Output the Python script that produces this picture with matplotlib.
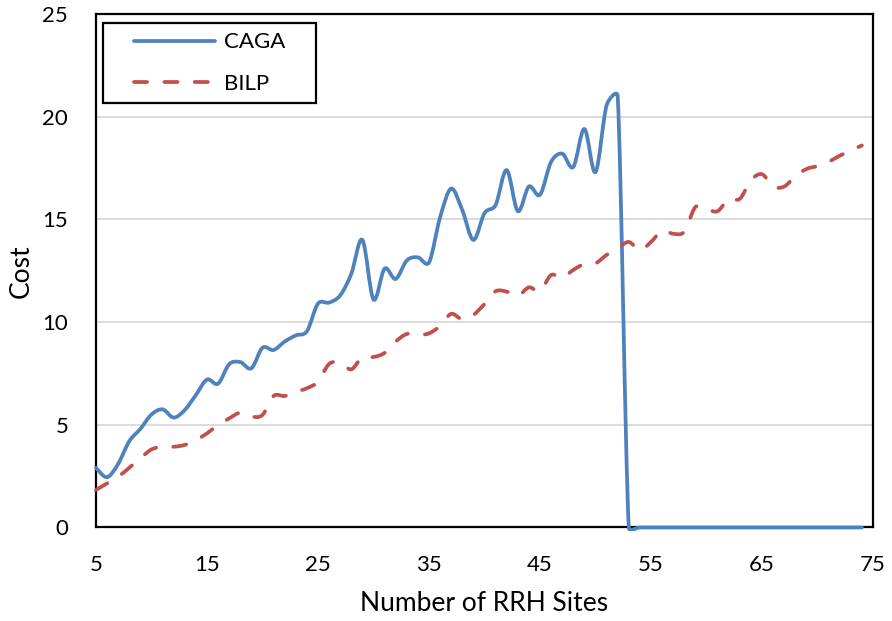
import numpy as np
import matplotlib
matplotlib.use("Agg")
import matplotlib.pyplot as plt
from matplotlib.path import Path
from matplotlib.patches import PathPatch, Rectangle
from matplotlib.lines import Line2D
from matplotlib.transforms import Bbox, TransformedBbox

plt.rcParams['font.family'] = ['Lato', 'DejaVu Sans']

sites = list(range(5, 75))
caga = [2.9, 2.45, 3.1, 4.2, 4.8, 5.5, 5.75, 5.35, 5.72, 6.45,
        7.2, 7.0, 7.95, 8.05, 7.75, 8.75, 8.64, 9.05, 9.35, 9.55,
        10.9, 10.95, 11.3, 12.35, 14.0, 11.1, 12.6, 12.1, 13.0, 13.15,
        12.9, 15.1, 16.5, 15.45, 14.0, 15.3, 15.7, 17.4, 15.4, 16.6,
        16.2, 17.8, 18.2, 17.55, 19.4, 17.3, 20.55, 21.0] + [0.0] * 22
bilp = [1.83, 2.15, 2.47, 2.91, 3.37, 3.8, 3.93, 3.93, 4.02, 4.26,
        4.58, 4.99, 5.31, 5.59, 5.4, 5.48, 6.4, 6.4, 6.6, 6.78,
        7.1, 7.96, 8.02, 7.7, 8.3, 8.3, 8.5, 9.05, 9.42, 9.38,
        9.45, 9.81, 10.4, 10.13, 10.35, 10.88, 11.5, 11.48, 11.27, 11.69,
        11.51, 12.29, 12.16, 12.54, 12.83, 12.86, 13.27, 13.59, 13.9, 13.5,
        13.9, 14.45, 14.3, 14.4, 15.6, 15.5, 15.4, 16.0, 16.0, 16.9,
        17.2, 16.6, 16.6, 17.1, 17.45, 17.6, 17.8, 18.1, 18.35, 18.6]
series_names = ['CAGA', 'BILP']
x_ticks = [5, 15, 25, 35, 45, 55, 65, 75]
y_ticks = [0, 5, 10, 15, 20, 25]

BLUE = '#4F81BD'
RED = '#C0504D'


def smooth_path(ax, xs, ys):
    """Excel-style smoothed line (Bezier through every point, computed in
    display space with control arms limited to half the segment length)."""
    data = np.column_stack([xs, ys]).astype(float)
    p = ax.transData.transform(data)
    n = len(p)
    verts = [p[0]]
    codes = [Path.MOVETO]
    for i in range(n - 1):
        p0 = p[i - 1] if i > 0 else p[i]
        p1 = p[i]
        p2 = p[i + 1]
        p3 = p[i + 2] if i + 2 < n else p[i + 1]
        half = np.linalg.norm(p2 - p1) / 2.0
        a1 = (p2 - p0) / 6.0
        a2 = (p3 - p1) / 6.0
        l1 = np.linalg.norm(a1)
        l2 = np.linalg.norm(a2)
        if l1 > half and l1 > 0:
            a1 = a1 * half / l1
        if l2 > half and l2 > 0:
            a2 = a2 * half / l2
        verts += [p1 + a1, p2 - a2, p2]
        codes += [Path.CURVE4] * 3
    verts = ax.transData.inverted().transform(np.array(verts))
    return Path(verts, codes)


fig = plt.figure(figsize=(8.92, 6.21), dpi=100)
ax = fig.add_axes([0.1076, 0.1506, 0.8711, 0.8269])

ax.set_xlim(5, 75)
ax.set_ylim(0, 25)
ax.set_xticks(x_ticks)
ax.set_yticks(y_ticks)
ax.tick_params(length=0, labelsize=16, pad=20)
ax.grid(axis='y', color='#D9D9D9', linewidth=1.3)
ax.set_axisbelow(True)
for s in ax.spines.values():
    s.set_color('black')
    s.set_linewidth(1.6)

clipbox = TransformedBbox(Bbox([[-0.01, -0.006], [1.01, 1.0]]), ax.transAxes)

lw = 2.7
dash = (3.5, 4.6)
pa = PathPatch(smooth_path(ax, sites, caga), facecolor='none', edgecolor=BLUE,
               linewidth=lw, zorder=3, capstyle='round', joinstyle='round')
ax.add_patch(pa)
pa.set_clip_box(clipbox)

pb = PathPatch(smooth_path(ax, sites, bilp), facecolor='none', edgecolor=RED,
               linewidth=lw, zorder=3, capstyle='round', joinstyle='round',
               linestyle=(0, dash))
ax.add_patch(pb)
pb.set_clip_box(clipbox)

ax.set_xlabel('Number of RRH Sites', fontsize=19, labelpad=11)
ax.set_ylabel('Cost', fontsize=19, labelpad=6)

# legend box
box = Rectangle((0.009, 0.8267), 0.274, 0.1558, transform=ax.transAxes,
                facecolor='white', edgecolor='black', linewidth=1.6, zorder=4)
ax.add_patch(box)
h1 = Line2D([], [], color=BLUE, linewidth=lw, solid_capstyle='round')
h2 = Line2D([], [], color=RED, linewidth=lw, dash_capstyle='round',
            dashes=dash)
leg = ax.legend([h1, h2], series_names, loc='center',
                bbox_to_anchor=(0.146, 0.9046), borderaxespad=0,
                frameon=False, fontsize=16, handlelength=3.65,
                handletextpad=0.4, labelspacing=0.95, borderpad=0)
leg.set_zorder(5)

fig.savefig('out.png', dpi=100)
